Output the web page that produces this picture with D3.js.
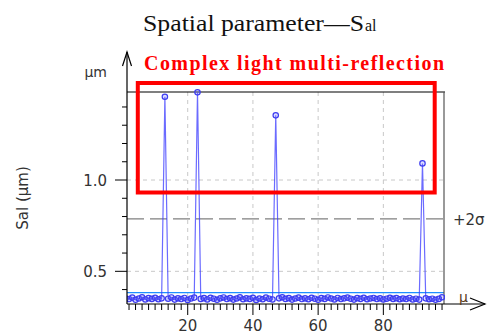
<!DOCTYPE html>
<html><head><meta charset="utf-8">
<script src="https://cdn.jsdelivr.net/npm/d3@7"></script>
<style>body{margin:0;background:#fff}svg{display:block}</style>
</head><body>
<svg id="c" width="495" height="336"></svg>
<script>
// ---- data ----
const sampleIndex = d3.range(1, 99);
const salValues = [
0.352,0.348,0.356,0.344,0.351,0.358,0.346,0.353,0.349,0.355,0.347,0.352,1.456,0.350,0.357,0.345,0.352,0.348,0.354,0.343,
0.351,0.356,1.480,0.349,0.353,0.346,0.355,0.350,0.344,0.352,0.357,0.348,0.353,0.345,0.351,0.358,0.347,0.352,0.349,0.355,
0.343,0.351,0.347,0.356,0.350,0.346,1.354,0.352,0.358,0.349,0.353,0.345,0.351,0.356,0.348,0.352,0.347,0.355,0.350,0.344,
0.353,0.349,0.357,0.351,0.346,0.354,0.348,0.352,0.356,0.350,0.345,0.353,0.349,0.355,0.347,0.351,0.354,0.348,0.352,0.346,
0.350,0.355,0.349,0.353,0.347,0.351,0.348,0.354,0.346,0.350,0.345,1.091,0.352,0.347,0.350,0.344,0.349,0.358
];
const meanValue = 0.383;
const plus2SigmaValue = 0.787;
const xTicks = [20, 40, 60, 80];
const yTicks = [0.5, 1.0];
const titleMain = "Spatial parameter\u2014S";
const titleSub = "al";
const annotation = "Complex light multi-reflection";
const yLabel = "Sal (\u00b5m)";
const yUnit = "\u00b5m";
const sigmaLabel = "+2\u03c3";
const muLabel = "\u03bc";

// ---- layout ----
const svg = d3.select("#c");
const L = 127, R = 444, T = 92, B = 304;
const x = d3.scaleLinear().domain([1.38, 98.6]).range([L, R]);
const y = d3.scaleLinear().domain([0.321, 1.482]).range([B, T]);
const sans = "'DejaVu Sans', sans-serif";
const serif = "'Liberation Serif', serif";

// grid
svg.append("g").selectAll("line").data(xTicks).join("line")
  .attr("x1", d => x(d)).attr("x2", d => x(d)).attr("y1", T).attr("y2", B)
  .attr("stroke", "#c8c8c8").attr("stroke-dasharray", "4,4");
svg.append("g").selectAll("line").data(yTicks).join("line")
  .attr("x1", L).attr("x2", R).attr("y1", d => y(d)).attr("y2", d => y(d))
  .attr("stroke", "#c8c8c8").attr("stroke-dasharray", "4,4");

// +2 sigma
svg.append("line").attr("x1", L).attr("x2", R)
  .attr("y1", y(plus2SigmaValue)).attr("y2", y(plus2SigmaValue))
  .attr("stroke", "#808080").attr("stroke-width", 1.2).attr("stroke-dasharray", "17,6");
svg.append("text").attr("x", 453).attr("y", y(plus2SigmaValue) + 6)
  .attr("font-family", sans).attr("font-size", 15).attr("fill", "#333").text(sigmaLabel);

// mean line
svg.append("line").attr("x1", L).attr("x2", R)
  .attr("y1", y(meanValue)).attr("y2", y(meanValue))
  .attr("stroke", "#1e8fff").attr("stroke-width", 1.3);

// frame top/right
svg.append("line").attr("x1", L).attr("x2", R + 1).attr("y1", T).attr("y2", T).attr("stroke", "#000").attr("stroke-width", 1.2);
svg.append("line").attr("x1", R).attr("x2", R).attr("y1", T).attr("y2", B).attr("stroke", "#555").attr("stroke-width", 1.2);

// data
const data = sampleIndex.map((d, i) => ({ x: d, v: salValues[i] }));
svg.append("clipPath").attr("id", "cp").append("rect")
  .attr("x", L).attr("y", 0).attr("width", R - L + 1).attr("height", 336);
const g = svg.append("g").attr("clip-path", "url(#cp)");
g.append("path").datum(data)
  .attr("d", d3.line().x(d => x(d.x)).y(d => y(d.v)))
  .attr("fill", "none").attr("stroke", "#3a3aff").attr("stroke-opacity", 0.75).attr("stroke-width", 1.2);
g.selectAll("circle").data(data).join("circle")
  .attr("cx", d => x(d.x)).attr("cy", d => y(d.v)).attr("r", 2.7)
  .attr("fill", "rgba(120,120,255,0.25)").attr("stroke", "#3c3cf0").attr("stroke-width", 1.2);

// y axis
const ya = svg.append("g");
ya.append("line").attr("x1", L).attr("x2", L).attr("y1", 52).attr("y2", B).attr("stroke", "#000").attr("stroke-width", 1.2);
ya.append("path").attr("d", `M${L - 4.5},66 L${L},52 L${L + 4.5},66`).attr("fill", "none").attr("stroke", "#000").attr("stroke-width", 1.2);
const yMinor = d3.range(4, 15).map(d => d / 10).filter(d => y(d) > T - 4 && y(d) < B);
ya.selectAll("line.m").data(yMinor).join("line").attr("class", "m")
  .attr("x1", d => yTicks.includes(d) ? L - 12 : L - 5).attr("x2", L)
  .attr("y1", d => y(d)).attr("y2", d => y(d)).attr("stroke", "#000");
ya.selectAll("text").data(yTicks).join("text")
  .attr("x", 107).attr("y", d => y(d) + 5.5).attr("text-anchor", "end")
  .attr("font-family", sans).attr("font-size", 15).attr("fill", "#333")
  .text(d => d3.format(".1f")(d));
svg.append("text").attr("x", 107).attr("y", 77).attr("text-anchor", "end")
  .attr("font-family", sans).attr("font-size", 14).attr("fill", "#333").text(yUnit);
svg.append("text").attr("transform", "translate(28,198) rotate(-90)").attr("text-anchor", "middle")
  .attr("font-family", sans).attr("font-size", 15).attr("fill", "#333").text(yLabel);

// x axis
const xa = svg.append("g");
xa.append("line").attr("x1", L).attr("x2", 485).attr("y1", B).attr("y2", B).attr("stroke", "#000").attr("stroke-width", 1.2);
xa.append("path").attr("d", `M470,298 L485,304 L470,310`).attr("fill", "none").attr("stroke", "#000").attr("stroke-width", 1.2);
const xMinor = d3.range(2, 99, 2);
xa.selectAll("line.m").data(xMinor).join("line").attr("class", "m")
  .attr("x1", d => x(d)).attr("x2", d => x(d)).attr("y1", B)
  .attr("y2", d => xTicks.includes(d) ? B + 11 : B + 6).attr("stroke", "#000");
xa.selectAll("text").data(xTicks).join("text")
  .attr("x", d => x(d)).attr("y", 331).attr("text-anchor", "middle")
  .attr("font-family", sans).attr("font-size", 15).attr("fill", "#333").text(d => d);
svg.append("text").attr("x", 459).attr("y", 302)
  .attr("font-family", sans).attr("font-size", 14).attr("fill", "#5a3a1a").text(muLabel);

// title
svg.append("text").attr("x", 143).attr("y", 31)
  .attr("font-family", serif).attr("font-size", 24).attr("fill", "#111")
  .attr("textLength", 221).attr("lengthAdjust", "spacingAndGlyphs").text(titleMain);
svg.append("text").attr("x", 365).attr("y", 31)
  .attr("font-family", serif).attr("font-size", 16).attr("fill", "#111").text(titleSub);

// annotation
svg.append("text").attr("x", 144).attr("y", 70)
  .attr("font-family", serif).attr("font-weight", "bold").attr("font-size", 20)
  .attr("fill", "#ff0000").attr("textLength", 300).text(annotation);
svg.append("rect").attr("x", 137.8).attr("y", 83).attr("width", 434.7 - 137.8).attr("height", 192.5 - 83)
  .attr("fill", "none").attr("stroke", "#ff0000").attr("stroke-width", 4);
</script>
</body></html>
